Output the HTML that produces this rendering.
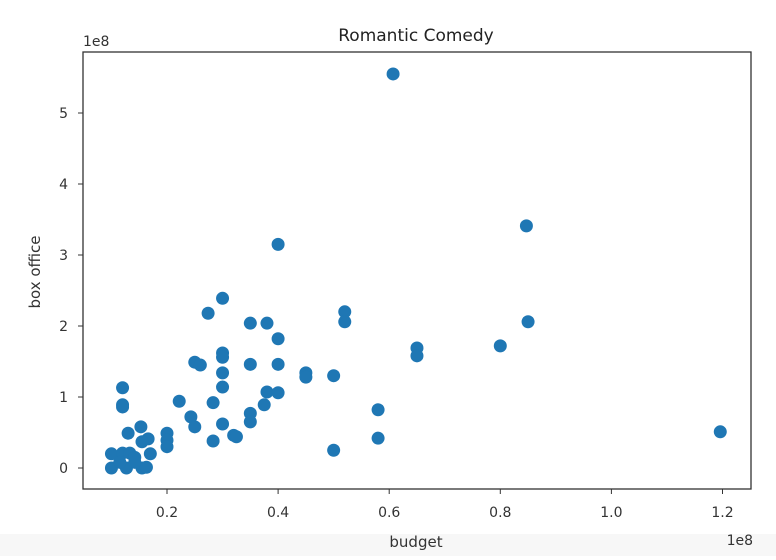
<!DOCTYPE html>
<html><head><meta charset="utf-8"><style>
body{margin:0;background:#fff;width:776px;height:556px;overflow:hidden;font-family:"DejaVu Sans","Liberation Sans",sans-serif}
</style></head><body>
<svg id="chart" width="776" height="556" xmlns="http://www.w3.org/2000/svg" font-family="DejaVu Sans, Liberation Sans, sans-serif">
<rect x="0" y="534" width="776" height="22" fill="#f7f7f7"/>
<text x="416" y="41" font-size="17" text-anchor="middle" fill="#222">Romantic Comedy</text>
<text x="83" y="46" font-size="14" fill="#333">1e8</text>
<text x="753" y="545" font-size="14" fill="#333" text-anchor="end">1e8</text>
<text x="416" y="547" font-size="15" text-anchor="middle" fill="#333">budget</text>
<text transform="translate(40,272) rotate(-90)" font-size="15" text-anchor="middle" fill="#333">box office</text>
<g id="ticks"></g>
<g id="points"></g>
<rect x="83" y="52" width="668" height="437" fill="none" stroke="#333" stroke-width="1.3"/>
</svg>
<script>
const budgets=[0.30,0.274,0.35,0.38,0.40,0.30,0.30,0.25,0.26,0.35,0.40,0.30,0.45,0.45,0.12,0.30,0.12,0.12,0.222,0.283,0.38,0.40,0.375,0.35,0.35,0.243,0.25,0.30,0.32,0.325,0.283,0.20,0.20,0.20,0.13,0.153,0.166,0.155,0.17,0.10,0.12,0.133,0.142,0.10,0.127,0.155,0.163,0.115,0.142,0.607,0.847,0.40,0.85,0.52,0.52,0.65,0.65,0.80,0.50,0.58,0.58,0.50,1.196];
const boxOffice=[2.39,2.18,2.04,2.04,1.82,1.62,1.56,1.49,1.45,1.46,1.46,1.34,1.34,1.28,1.13,1.14,0.89,0.86,0.94,0.92,1.07,1.06,0.89,0.77,0.65,0.72,0.58,0.62,0.46,0.44,0.38,0.49,0.39,0.30,0.49,0.58,0.41,0.37,0.20,0.20,0.21,0.21,0.15,0.0,0.0,0.0,0.01,0.08,0.08,5.55,3.41,3.15,2.06,2.20,2.06,1.69,1.58,1.72,1.30,0.82,0.42,0.25,0.51];
const xTicks=[0.2,0.4,0.6,0.8,1.0,1.2];
const xTickLabels=["0.2","0.4","0.6","0.8","1.0","1.2"];
const yTicks=[0,1,2,3,4,5];
const yTickLabels=["0","1","2","3","4","5"];
const NS="http://www.w3.org/2000/svg";
function xs(v){return 167+(v-0.2)*555.5;}
function ys(v){return 468-v*71;}
const tg=document.getElementById('ticks');
xTicks.forEach((t,i)=>{
 const l=document.createElementNS(NS,'line');
 l.setAttribute('x1',xs(t));l.setAttribute('x2',xs(t));l.setAttribute('y1',489);l.setAttribute('y2',494);l.setAttribute('stroke','#333');
 
 
 tg.appendChild(l);
 const tx=document.createElementNS(NS,'text');
 tx.setAttribute('x',xs(t));tx.setAttribute('y',517);tx.setAttribute('font-size','14');tx.setAttribute('text-anchor','middle');tx.setAttribute('fill','#333');
 tx.textContent=xTickLabels[i];
 
 
 tg.appendChild(tx);
});
yTicks.forEach((t,i)=>{
 const l=document.createElementNS(NS,'line');
 l.setAttribute('x1',78);l.setAttribute('x2',83);l.setAttribute('y1',ys(t));l.setAttribute('y2',ys(t));l.setAttribute('stroke','#333');
 
 
 tg.appendChild(l);
 const tx=document.createElementNS(NS,'text');
 tx.setAttribute('x',68);tx.setAttribute('y',ys(t)+5);tx.setAttribute('font-size','14');tx.setAttribute('text-anchor','end');tx.setAttribute('fill','#333');
 tx.textContent=yTickLabels[i];
 
 
 tg.appendChild(tx);
});
const pg=document.getElementById('points');
budgets.forEach((b,i)=>{
 const c=document.createElementNS(NS,'circle');
 c.setAttribute('cx',xs(b));c.setAttribute('cy',ys(boxOffice[i]));c.setAttribute('r',6.5);c.setAttribute('fill','#1f77b4');
 
 
 pg.appendChild(c);
});
</script>
</body></html>
